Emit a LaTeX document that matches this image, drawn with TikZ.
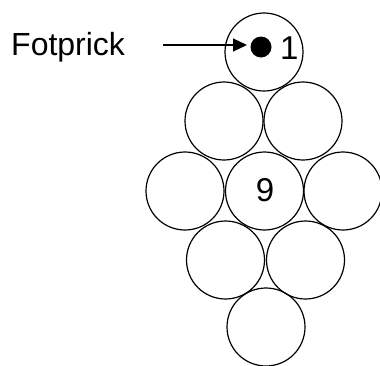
\documentclass[tikz,border=0pt]{standalone}
\usepackage{fontspec}
\setmainfont{Liberation Sans}
\usetikzlibrary{arrows.meta}
\begin{document}
\begin{tikzpicture}[x=1pt,y=-1pt,
  ball/.style={circle,draw,line width=1.2pt,minimum size=78pt,inner sep=0pt},
  lbl/.style={font=\fontsize{33}{33}\selectfont,inner sep=0pt}]
\useasboundingbox (0,0) rectangle (380,365);
\node[ball] (b1) at (264,52) {};
\node[ball] (b2) at (224,121) {};
\node[ball] (b3) at (303,121) {};
\node[ball] (b4) at (185,191) {};
\node[ball] (b5) at (264.5,191) {};
\node[ball] (b6) at (343,191) {};
\node[ball] (b7) at (225.5,260) {};
\node[ball] (b8) at (305.5,260) {};
\node[ball] (b9) at (266,327) {};
\node[lbl] (n9) at (265,190) {9};
\node[lbl,anchor=west] (n1) at (280,48) {1};
\node[circle,fill=black,minimum size=21pt,inner sep=0pt] (dot) at (261,47) {};
\node[font=\fontsize{32}{32}\selectfont,inner sep=0pt,anchor=base west] (lab) at (11,55) {Fotprick};
\coordinate (s) at (163,45);
\coordinate (t) at (247,45);
\draw[line width=1.2pt,-{Triangle[length=14pt,width=13pt]}] (s) -- (t);
\end{tikzpicture}
\end{document}
